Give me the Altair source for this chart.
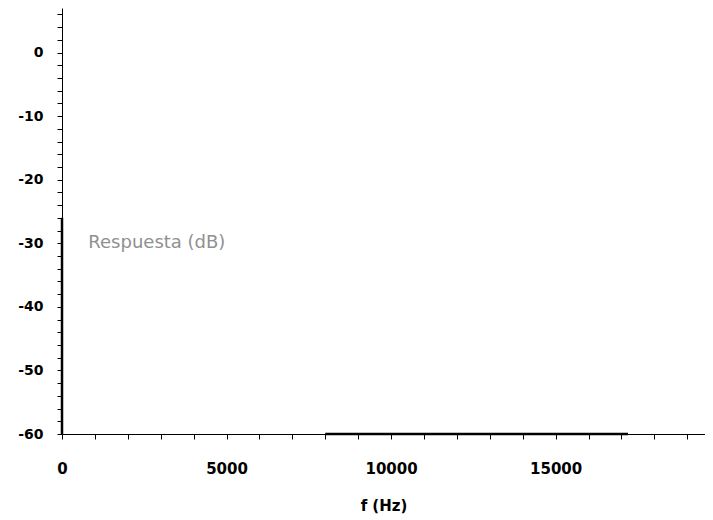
import altair as alt
import pandas as pd

# Axis ticks
x_ticks = list(range(0, 20000, 1000))
y_ticks = list(range(-60, 8, 2))

# Visible response traces (frequency Hz, level dB, segment)
seg_f = [0, 0, 8000, 17200]
seg_db = [-26, -60, -60, -60]
seg_id = ["a", "a", "b", "b"]

label_f = [800]
label_db = [-30]
label_txt = ["Respuesta (dB)"]

curve = pd.DataFrame({"f": seg_f, "db": seg_db, "seg": seg_id})
lab = pd.DataFrame({"f": label_f, "db": label_db, "t": label_txt})

xscale = alt.Scale(domain=[0, 19540], nice=False, zero=False)
yscale = alt.Scale(domain=[-60, 7], nice=False, zero=False)

xaxis = alt.Axis(
    values=x_ticks,
    labelExpr="datum.value % 5000 == 0 ? toString(datum.value) : ''",
    grid=False, domainColor="black", tickColor="black", labelFlush=False,
    tickSize=5, labelPadding=22, labelFont="DejaVu Sans", labelFontWeight="bold",
    labelFontSize=15, labelColor="black",
    title="f (Hz)", titleFont="DejaVu Sans", titleFontWeight="bold",
    titleFontSize=15, titleColor="black", titlePadding=22,
)
yaxis = alt.Axis(
    values=y_ticks,
    labelExpr="datum.value % 10 == 0 ? toString(datum.value) : ''",
    grid=False, domainColor="black", tickColor="black",
    tickSize=5, labelPadding=14, labelFont="DejaVu Sans", labelFontWeight="bold",
    labelFontSize=14, labelColor="black", title=None,
)

line = alt.Chart(curve).mark_line(color="black", strokeWidth=2.5).encode(
    x=alt.X("f:Q", scale=xscale, axis=xaxis),
    y=alt.Y("db:Q", scale=yscale, axis=yaxis),
    detail="seg:N",
)

text = alt.Chart(lab).mark_text(
    align="left", baseline="middle", font="DejaVu Sans", fontSize=18, color="#909090"
).encode(
    x=alt.X("f:Q", scale=xscale, axis=xaxis),
    y=alt.Y("db:Q", scale=yscale, axis=yaxis),
    text="t:N",
)

chart = (line + text).properties(
    width=643, height=426,
    autosize=alt.AutoSizeParams(type="none"),
    padding={"left": 54, "top": 0, "right": 0, "bottom": 86},
    background="white",
).configure_view(stroke=None)

chart.save("out.html", embed_options={"renderer": "svg", "actions": False})
